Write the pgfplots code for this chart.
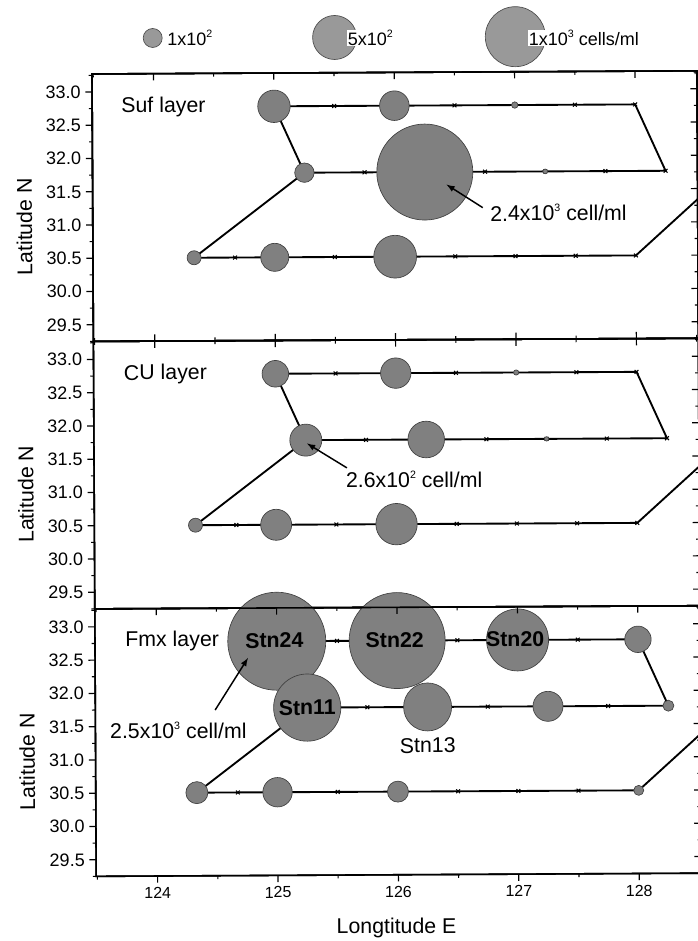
\documentclass[border=0pt]{standalone}
\usepackage{pgfplots}
\usepackage{pgfplotstable}
\usepackage{fontspec}
\setmainfont{Liberation Sans}
\pgfplotsset{compat=1.18}
\definecolor{bub}{gray}{0.50}
\definecolor{bubl}{gray}{0.60}
\newcommand\sps[1]{\raisebox{0.8ex}{\fontsize{8}{8}\selectfont #1}}
\newcommand\fa{\fontsize{16}{18}\selectfont}
\newcommand\fl{\fontsize{13.5}{16}\selectfont}
\pgfplotstableread{
x y
125 32.77
125.5 32.77
126 32.77
126.5 32.77
127 32.77
127.5 32.77
128 32.77
128.25 31.77
127.75 31.77
127.25 31.77
126.75 31.77
126.25 31.77
125.75 31.77
125.25 31.77
124.33 30.50
124.67 30.50
125 30.50
125.5 30.50
126 30.50
126.5 30.50
127 30.50
127.5 30.50
128 30.50
128.6 31.48
}\route
\pgfplotstableread{
x y
125 32.77
125.25 31.77
}\link
\pgfplotstableread{
x y r
125 32.77 16.2
126 32.77 14.8
127 32.77 3.2
125.25 31.77 9.7
126.25 31.77 48
127.25 31.77 2.4
124.33 30.50 7
125 30.50 14
126 30.50 21.4
}\sufdata
\pgfplotstableread{
x y r
125 32.77 13.3
126 32.77 15.2
127 32.77 2.6
125.25 31.77 16
126.25 31.77 18.3
127.25 31.77 2.2
124.33 30.50 7
125 30.50 15.5
126 30.50 20.7
}\cudata
\pgfplotstableread{
x y r
125 32.77 49
126 32.77 48
127 32.77 31
128 32.77 13.2
125.25 31.77 33.6
126.25 31.77 24
127.25 31.77 15
128.25 31.77 5.5
124.33 30.50 11
125 30.50 14.7
126 30.50 10.5
128 30.50 5
}\fmxdata
\pgfplotstableread{
x y r
152.7 38 9.5
334.6 37.5 22
515.3 36.7 30
}\legdata
\pgfplotsset{
  base/.style={
    scale only axis, width=453.75pt, height=200.6pt,
    xmin=123.49, xmax=128.515, ymin=29.25, ymax=33.27,
    axis line style={line width=1.2pt},
    major tick length=5pt, minor tick length=2.5pt,
    every tick/.style={black,line width=0.9pt},
    every minor tick/.style={black,line width=0.8pt},
    xtick={124,125,126,127,128},
    minor xtick={123.5,124.5,125.5,126.5,127.5,128.5},
    ytick={29.5,30,30.5,31,31.5,32,32.5,33},
    minor ytick={29.25,29.75,30.25,30.75,31.25,31.75,32.25,32.75,33.25},
    /pgf/number format/assume math mode=true,
  },
  main/.style={
    base, tick align=outside, ytick pos=left, xtick pos=bottom,
    yticklabel style={font=\fl,/pgf/number format/fixed,/pgf/number format/fixed zerofill,/pgf/number format/precision=1},
    ylabel={Latitude N},
    every axis y label/.style={at={(axis description cs:-0.113,0.43)},rotate=90,anchor=center,font=\fa},
  },
  frameup/.style={base, tick align=inside, ytick pos=right, xtick pos=top,
    xticklabels={}, yticklabels={}},
  bub/.style={scatter, only marks, mark=*,
    scatter/use mapped color={draw=black!75,fill=bub,line width=0.5pt},
    visualization depends on={0.75*\thisrow{r} \as \rad},
    scatter/@pre marker code/.append style={/tikz/mark size=\rad}},
  rt/.style={black, line width=1.4pt, mark=x, mark size=2pt,
    mark options={line width=0.8pt}},
}
\tikzset{ann/.style={-latex,line width=1.1pt}}
\begin{document}
\begin{tikzpicture}
\useasboundingbox (0,0) rectangle (523.5pt,705.75pt);
% legend
\begin{axis}[at={(0pt,650.25pt)}, anchor=south west, scale only axis,
  width=523.5pt, height=55.5pt, xmin=0, xmax=698, ymin=0, ymax=74, y dir=reverse,
  hide axis, clip=false]
\addplot[scatter, only marks, mark=*,
    scatter/use mapped color={draw=black!70,fill=bubl,line width=0.5pt},
    visualization depends on={0.75*\thisrow{r} \as \rad},
    scatter/@pre marker code/.append style={/tikz/mark size=\rad}] table[x=x,y=y] {\legdata};
\end{axis}
\begin{axis}[at={(0pt,650.25pt)}, anchor=south west, scale only axis,
  width=523.5pt, height=55.5pt, xmin=0, xmax=698, ymin=0, ymax=74, y dir=reverse,
  hide axis, clip=false]
\node[anchor=west,inner sep=0.5pt,font=\fl] at (axis cs:166.5,38) {1x10\sps{2}};
\node[anchor=west,inner sep=0.5pt,fill=white,font=\fl] at (axis cs:347,38) {5x10\sps{2}};
\node[anchor=west,inner sep=0.5pt,fill=white,font=\fl] at (axis cs:528,38) {1x10\sps{3} cells/ml};
\end{axis}
\begin{scope}[shift={(69pt,650.25pt)},rotate=0.3]
% Suf
\begin{axis}[main, at={(0pt,0pt)}, anchor=north west, xtick=\empty, minor xtick=\empty]
\addplot[rt] table[x=x,y=y] {\route};
\addplot[rt,mark=none] table[x=x,y=y] {\link};
\addplot[bub] table[x=x,y=y] {\sufdata};
\end{axis}
\begin{axis}[frameup, at={(0pt,0pt)}, anchor=north west]
\node[anchor=west,font=\fa,inner sep=0pt] at (axis cs:123.73,32.77) {Suf layer};
\node[anchor=west,font=\fa,inner sep=0pt] at (axis cs:126.79,31.15) {2.4x10\sps{3} cell/ml};
\draw[ann] (axis cs:126.73,31.23) -- (axis cs:126.43,31.58);
\end{axis}
\begin{axis}[base, at={(0pt,0pt)}, anchor=north west, tick align=inside, xtick pos=bottom, xticklabels={}, ytick=\empty, minor ytick=\empty]\end{axis}
% CU
\begin{axis}[main, at={(0pt,-200.6pt)}, anchor=north west, xtick=\empty, minor xtick=\empty]
\addplot[rt] table[x=x,y=y] {\route};
\addplot[rt,mark=none] table[x=x,y=y] {\link};
\addplot[bub] table[x=x,y=y] {\cudata};
\end{axis}
\begin{axis}[frameup, at={(0pt,-200.6pt)}, anchor=north west]
\node[anchor=west,font=\fa,inner sep=0pt] at (axis cs:123.74,32.77) {CU layer};
\node[anchor=west,font=\fa,inner sep=0pt] at (axis cs:125.58,31.17) {2.6x10\sps{2} cell/ml};
\draw[ann] (axis cs:125.59,31.35) -- (axis cs:125.26,31.72);
\end{axis}
% Fmx
\begin{axis}[main, at={(0pt,-401.2pt)}, anchor=north west,
  xticklabel style={font=\fontsize{12}{14}\selectfont,/pgf/number format/1000 sep={}},
  xlabel={Longtitude E},
  every axis x label/.style={at={(axis description cs:0.496,-0.198)},anchor=center,font=\fa}]
\addplot[rt] table[x=x,y=y] {\route};
\addplot[rt,mark=none] table[x=x,y=y] {\link};
\addplot[bub] table[x=x,y=y] {\fmxdata};
\end{axis}
\begin{axis}[frameup, at={(0pt,-401.2pt)}, anchor=north west]
\node[anchor=west,font=\fa,inner sep=0pt] at (axis cs:123.74,32.78) {Fmx layer};
\node[font=\fa\bfseries,inner sep=0pt] at (axis cs:124.98,32.78) {Stn24};
\node[font=\fa\bfseries,inner sep=0pt] at (axis cs:125.98,32.78) {Stn22};
\node[font=\fa\bfseries,inner sep=0pt] at (axis cs:126.98,32.78) {Stn20};
\node[font=\fa\bfseries,inner sep=0pt] at (axis cs:125.25,31.77) {Stn11};
\node[font=\fa,inner sep=0pt] at (axis cs:126.25,31.19) {Stn13};
\node[anchor=west,font=\fa,inner sep=0pt] at (axis cs:123.61,31.44) {2.5x10\sps{3} cell/ml};
\draw[ann] (axis cs:124.485,31.74) -- (axis cs:124.76,32.52);
\end{axis}
\end{scope}
\end{tikzpicture}
\end{document}
